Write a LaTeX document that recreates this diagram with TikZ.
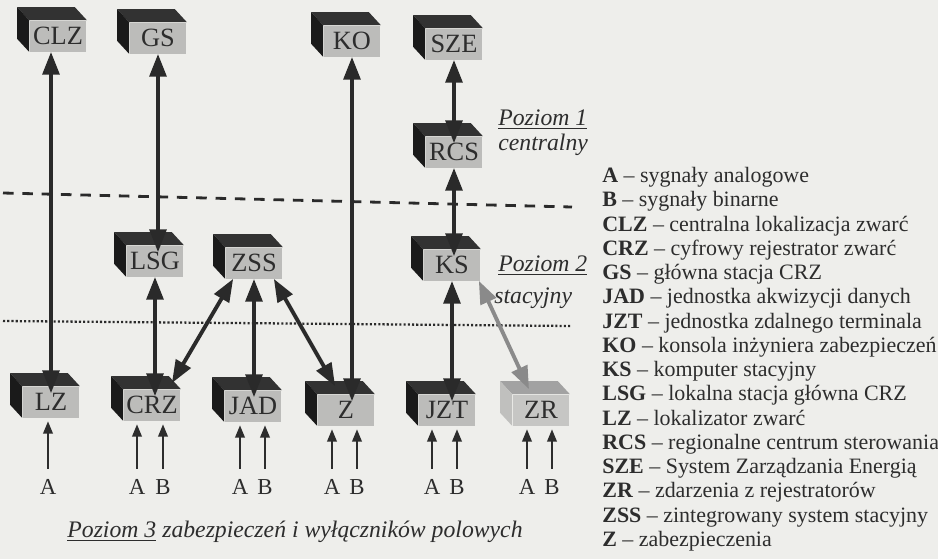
\documentclass[tikz,border=0pt]{standalone}
\usepackage{fontspec}
\setmainfont{Liberation Serif}
\usepackage{tikz}
\usetikzlibrary{arrows.meta, positioning, calc}

\definecolor{tlo}{RGB}{238,238,235}
\definecolor{przod}{RGB}{188,188,186}
\definecolor{wierzch}{RGB}{50,50,50}
\definecolor{bok}{RGB}{26,26,26}
\definecolor{ciemny}{RGB}{42,42,42}
\definecolor{jasny}{RGB}{138,138,138}
\definecolor{napis}{RGB}{45,45,45}
\definecolor{zrprzod}{RGB}{198,198,196}
\definecolor{zrwierzch}{RGB}{162,162,162}
\definecolor{zrbok}{RGB}{192,192,190}

% box in 3D: name, x, y, label, top colour, side colour
\newcommand{\kostka}[6]{%
  \node[blok] (#1) at (#2,#3) {#4};
  \fill[#5] (#1.north west) -- ++(-12,-13) -- ($(#1.north east)+(-12,-13)$)
            -- (#1.north east) -- cycle;
  \fill[#6] (#1.north west) -- ++(-12,-13) -- ($(#1.south west)+(-12,-13)$)
            -- (#1.south west) -- cycle;
}

\begin{document}
\begin{tikzpicture}[x=0.02cm, y=-0.02cm,
  blok/.style={fill=przod, minimum width=1.14cm, minimum height=0.62cm,
    inner sep=0pt, text=napis, font=\fontsize{15}{15}\selectfont},
  lacze/.style={line width=2.2pt, draw=ciemny,
    {Triangle[length=13pt,width=9.5pt]}-{Triangle[length=13pt,width=9.5pt]}},
  sygnal/.style={line width=1pt, draw=napis, -{Triangle[length=7pt,width=5.5pt]},
    shorten <=5pt, shorten >=2pt},
  litera/.style={text=napis, inner sep=1pt, font=\fontsize{13}{13}\selectfont},
  poziom/.style={text=napis, inner sep=0pt, anchor=west,
    font=\fontsize{13.5}{16}\selectfont\itshape}]
  \useasboundingbox (0,0) rectangle (938,559);
  \fill[tlo] (0,0) rectangle (938,559);

  % level borders
  \draw[ciemny, line width=1.6pt, dash pattern=on 6pt off 5pt] (3,193) -- (572,207);
  \draw[ciemny, line width=1.3pt, dash pattern=on 1.2pt off 1.2pt] (3,321) -- (572,326);

  % level 1
  \kostka{CLZ}{58}{36}{CLZ}{wierzch}{bok}
  \kostka{GS}{158}{38}{GS}{wierzch}{bok}
  \kostka{KO}{352}{41}{KO}{wierzch}{bok}
  \kostka{SZE}{454}{44}{SZE}{wierzch}{bok}
  \kostka{RCS}{454}{152}{RCS}{wierzch}{bok}
  % level 2
  \kostka{LSG}{155}{261}{LSG}{wierzch}{bok}
  \kostka{ZSS}{254}{263}{ZSS}{wierzch}{bok}
  \kostka{KS}{452}{265}{KS}{wierzch}{bok}
  % level 3
  \kostka{LZ}{51}{402}{LZ}{wierzch}{bok}
  \kostka{CRZ}{152}{405}{CRZ}{wierzch}{bok}
  \kostka{JAD}{253}{406}{JAD}{wierzch}{bok}
  \kostka{Z}{346}{410}{Z}{wierzch}{bok}
  \kostka{JZT}{447}{410}{JZT}{wierzch}{bok}
  \node[blok, fill=zrprzod] (ZR) at (541,410) {ZR};
  \fill[zrwierzch] (ZR.north west) -- ++(-12,-13) -- ($(ZR.north east)+(-12,-13)$)
                   -- (ZR.north east) -- cycle;
  \fill[zrbok] (ZR.north west) -- ++(-12,-13) -- ($(ZR.south west)+(-12,-13)$)
               -- (ZR.south west) -- cycle;

  % links
  \draw[lacze, shorten >=-4pt] (CLZ.south -| LZ.north) -- (LZ.north);
  \draw[lacze, shorten >=-4pt] (GS.south) -- (GS.south |- LSG.north);
  \draw[lacze, shorten >=-4pt] (KO.south) -- (KO.south |- Z.north);
  \draw[lacze, shorten >=-4pt] (SZE.south) -- (RCS.north);
  \draw[lacze, shorten >=-4pt] (RCS.south) -- (RCS.south |- KS.north);
  \draw[lacze, shorten >=-4pt] (LSG.south) -- (LSG.south |- CRZ.north);
  \draw[lacze] ($(ZSS.south west)+(8,0)$) -- ($(CRZ.north east)+(-9,-6)$);
  \draw[lacze, shorten >=-4pt] (ZSS.south) -- (ZSS.south |- JAD.north);
  \draw[lacze] ($(ZSS.south east)+(-9,0)$) -- ($(Z.north west)+(18,-8)$);
  \draw[lacze, shorten >=-4pt] (KS.south) -- (KS.south |- JZT.north);
  \draw[lacze, draw=jasny, fill=jasny] ($(KS.south east)+(-2,0)$) -- ($(ZR.north)+(-12,-5)$);

  % input signals
  \node[litera] (aLZ) at (48,487) {A};
  \node[litera] (aCRZ) at (137,487) {A};
  \node[litera] (bCRZ) at (163,487) {B};
  \node[litera] (aJAD) at (240,487) {A};
  \node[litera] (bJAD) at (265,487) {B};
  \node[litera] (aZ) at (332,487) {A};
  \node[litera] (bZ) at (357,487) {B};
  \node[litera] (aJZT) at (432,487) {A};
  \node[litera] (bJZT) at (457,487) {B};
  \node[litera] (aZR) at (527,487) {A};
  \node[litera] (bZR) at (552,487) {B};
  \draw[sygnal] (aLZ.north) -- (aLZ.north |- LZ.south);
  \draw[sygnal] (aCRZ.north) -- (aCRZ.north |- CRZ.south);
  \draw[sygnal] (bCRZ.north) -- (bCRZ.north |- CRZ.south);
  \draw[sygnal] (aJAD.north) -- (aJAD.north |- JAD.south);
  \draw[sygnal] (bJAD.north) -- (bJAD.north |- JAD.south);
  \draw[sygnal] (aZ.north) -- (aZ.north |- Z.south);
  \draw[sygnal] (bZ.north) -- (bZ.north |- Z.south);
  \draw[sygnal] (aJZT.north) -- (aJZT.north |- JZT.south);
  \draw[sygnal] (bJZT.north) -- (bJZT.north |- JZT.south);
  \draw[sygnal] (aZR.north) -- (aZR.north |- ZR.south);
  \draw[sygnal] (bZR.north) -- (bZR.north |- ZR.south);

  % level names
  \node[poziom] (p1) at (498,120) {\underline{Poziom 1}};
  \node[poziom] (p1b) at (498,145) {centralny};
  \node[poziom] (p2) at (498,266) {\underline{Poziom 2}};
  \node[poziom] (p2b) at (494,298) {stacyjny};
  \node[poziom, anchor=center] (p3) at (295,532)
    {\underline{Poziom 3} zabezpieczeń i wyłączników polowych};

  % legend
  \node[anchor=north west, align=left, inner sep=0pt, text=napis,
    font=\fontsize{12.5}{13.8}\selectfont] (legenda) at (602,167)
    {\textbf{A} – sygnały analogowe\\
     \textbf{B} – sygnały binarne\\
     \textbf{CLZ} – centralna lokalizacja zwarć\\
     \textbf{CRZ} – cyfrowy rejestrator zwarć\\
     \textbf{GS} – główna stacja CRZ\\
     \textbf{JAD} – jednostka akwizycji danych\\
     \textbf{JZT} – jednostka zdalnego terminala\\
     \textbf{KO} – konsola inżyniera zabezpieczeń\\
     \textbf{KS} – komputer stacyjny\\
     \textbf{LSG} – lokalna stacja główna CRZ\\
     \textbf{LZ} – lokalizator zwarć\\
     \textbf{RCS} – regionalne centrum sterowania\\
     \textbf{SZE} – System Zarządzania Energią\\
     \textbf{ZR} – zdarzenia z rejestratorów\\
     \textbf{ZSS} – zintegrowany system stacyjny\\
     \textbf{Z} – zabezpieczenia};
\end{tikzpicture}
\end{document}
